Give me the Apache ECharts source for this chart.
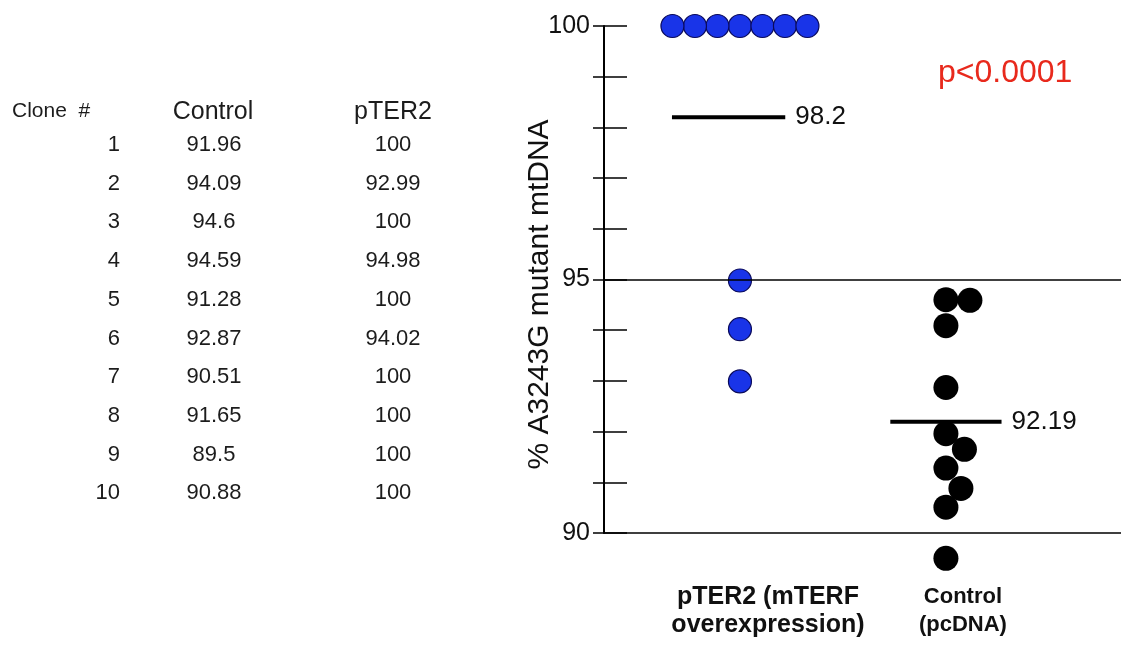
<!DOCTYPE html>
<html><head><meta charset="utf-8">
<script src="https://cdn.jsdelivr.net/npm/echarts@6/dist/echarts.min.js"></script>
<style>html,body{margin:0;padding:0;background:#fff}#c{width:1121px;height:650px}</style>
</head><body><div id="c"></div>
<script>
// ---------- data ----------
const clones = [1, 2, 3, 4, 5, 6, 7, 8, 9, 10];
const controlValues = [91.96, 94.09, 94.6, 94.59, 91.28, 92.87, 90.51, 91.65, 89.5, 90.88];
const pter2Values = [100, 92.99, 100, 94.98, 100, 94.02, 100, 100, 100, 100];
const groupNames = ['pTER2 (mTERF\noverexpression)', 'Control\n(pcDNA)'];
const tableHeaders = ['Clone  #', 'Control', 'pTER2'];
const yTickLabels = [90, 95, 100];
const pValueText = 'p<0.0001';
const yAxisTitle = '% A3243G mutant mtDNA';

// ---------- derived ----------
const mean = a => a.reduce((s, v) => s + v, 0) / a.length;
const pterMean = mean(pter2Values);
const ctrlMean = mean(controlValues);

// ---------- style / layout ----------
const FONT = '"Liberation Sans", Arial, Helvetica, sans-serif';
const X_MIN = 0.34, X_MAX = 2.85;
const PTER_SIZE = 23, CTRL_SIZE = 25;
const meanExtent = [[-0.33, 0.22], [-0.27, 0.27]];

const chart = echarts.init(document.getElementById('c'), null, {renderer: 'canvas'});

function tableGraphics() {
  const els = [];
  const rowY0 = 145, rowStep = 38.7;
  const txt = (text, x, y, size, align, weight) => ({
    type: 'text', x: x, y: y, silent: true,
    style: {
      text: String(text), fill: '#1c1c1c',
      font: (weight || 'normal') + ' ' + size + 'px ' + FONT,
      align: align, textAlign: align, verticalAlign: 'middle', textVerticalAlign: 'middle'
    }
  });
  els.push(txt(tableHeaders[0], 12, 111, 21, 'left'));
  els.push(txt(tableHeaders[1], 213, 112, 25, 'center'));
  els.push(txt(tableHeaders[2], 393, 112, 25, 'center'));
  clones.forEach((c, i) => {
    const y = rowY0 + i * rowStep;
    els.push(txt(c, 120, y, 22, 'right'));
    els.push(txt(controlValues[i], 214, y, 22, 'center'));
    els.push(txt(pter2Values[i], 393, y, 22, 'center'));
  });
  els.push({
    type: 'text', x: 938, y: 73, silent: true,
    style: {text: pValueText, fill: '#e8291c', font: '32px ' + FONT,
      align: 'left', textAlign: 'left', verticalAlign: 'middle', textVerticalAlign: 'middle'}
  });
  return els;
}

function meanSeries(center, m, ext, digits) {
  return {
    type: 'line', silent: true, symbol: 'none', z: 2,
    data: [[center + ext[0], m], [center + ext[1], m]],
    lineStyle: {color: '#000', width: 4},
    endLabel: {show: true, formatter: () => m.toFixed(digits), distance: 10,
      fontSize: 26, fontFamily: FONT, color: '#111'}
  };
}

const option = {
  animation: false,
  backgroundColor: '#fff',
  grid: {left: 604, right: 0, top: 26, bottom: 117, containLabel: false},
  xAxis: {
    type: 'value', min: X_MIN, max: X_MAX,
    axisLine: {show: true, onZero: false, lineStyle: {color: '#000', width: 1.5}},
    axisTick: {show: false},
    splitLine: {show: false},
    axisLabel: {
      show: true, customValues: [1, 2], margin: 50,
      formatter: v => {
        const idx = Math.round(v) - 1;
        const key = idx === 0 ? 'a' : 'b';
        return groupNames[idx].split('\n').map(s => '{' + key + '|' + s + '}').join('\n');
      },
      rich: {
        a: {fontSize: 25, fontWeight: 'bold', fontFamily: FONT, color: '#111', lineHeight: 28, padding: [0, 0, 0, 56]},
        b: {fontSize: 22, fontWeight: 'bold', fontFamily: FONT, color: '#111', lineHeight: 28, padding: [0, 0, 0, 34]}
      }
    }
  },
  yAxis: [{
    type: 'value', min: 90, max: 100, interval: 1,
    axisLine: {show: true, lineStyle: {color: '#000', width: 2}},
    axisTick: {show: true, length: 11, lineStyle: {color: '#000', width: 1.5}},
    splitLine: {show: false},
    axisLabel: {
      margin: 14, fontSize: 25, fontFamily: FONT, color: '#111',
      formatter: v => yTickLabels.indexOf(v) >= 0 ? String(v) : ''
    },
    name: yAxisTitle, nameLocation: 'middle', nameRotate: 90, nameGap: 49,
    nameMoveOverlap: false,
    nameTextStyle: {fontSize: 30, fontFamily: FONT, color: '#111', padding: [0, 30, 0, 0]}
  }, {
    type: 'value', min: 90, max: 100, interval: 1, position: 'left', offset: 0,
    axisLine: {show: false},
    axisTick: {show: true, inside: true, length: 23, lineStyle: {color: '#000', width: 1.5}},
    axisLabel: {show: false}, splitLine: {show: false}
  }],
  graphic: tableGraphics(),
  series: [
    {
      type: 'line', silent: true, data: [], symbol: 'none',
      markLine: {silent: true, symbol: 'none', label: {show: false},
        lineStyle: {color: '#000', width: 1.5, type: 'solid'},
        data: [{yAxis: 95}]}
    },
    meanSeries(1, pterMean, meanExtent[0], 1),
    meanSeries(2, ctrlMean, meanExtent[1], 2),
    {
      type: 'scatter', name: 'pTER2', clip: false, z: 3, symbolSize: PTER_SIZE,
      itemStyle: {color: '#1934e8', borderColor: '#0a0a5a', borderWidth: 1.2, opacity: 1},
      data: pter2Values.map(v => [1, v])
    },
    {
      type: 'scatter', name: 'Control', clip: false, z: 3, symbolSize: CTRL_SIZE,
      itemStyle: {color: '#000', opacity: 1},
      data: controlValues.map(v => [2, v])
    }
  ]
};
chart.setOption(option);

// beeswarm layout computed through the chart's own scales
function swarm(values, center, diameter) {
  const placed = [];
  const finder = {xAxisIndex: 0, yAxisIndex: 0};
  const c = chart.convertToPixel(finder, [center, values[0]])[0];
  return values.map(v => {
    const py = chart.convertToPixel(finder, [center, v])[1];
    let off = 0;
    for (let k = 0; k < 400; k++) {
      const cand = (k % 2 === 1 ? 1 : -1) * Math.ceil(k / 2) * 0.5;
      const ok = placed.every(p => (p[0] - cand) ** 2 + (p[1] - py) ** 2 >= diameter * diameter - 0.01);
      if (ok) { off = cand; break; }
    }
    placed.push([off, py]);
    return [chart.convertFromPixel(finder, [c + off, py])[0], v];
  });
}
chart.setOption({series: [{}, {}, {},
  {data: swarm(pter2Values, 1, 22.5)},
  {data: swarm(controlValues, 2, 24)}]});
</script></body></html>
